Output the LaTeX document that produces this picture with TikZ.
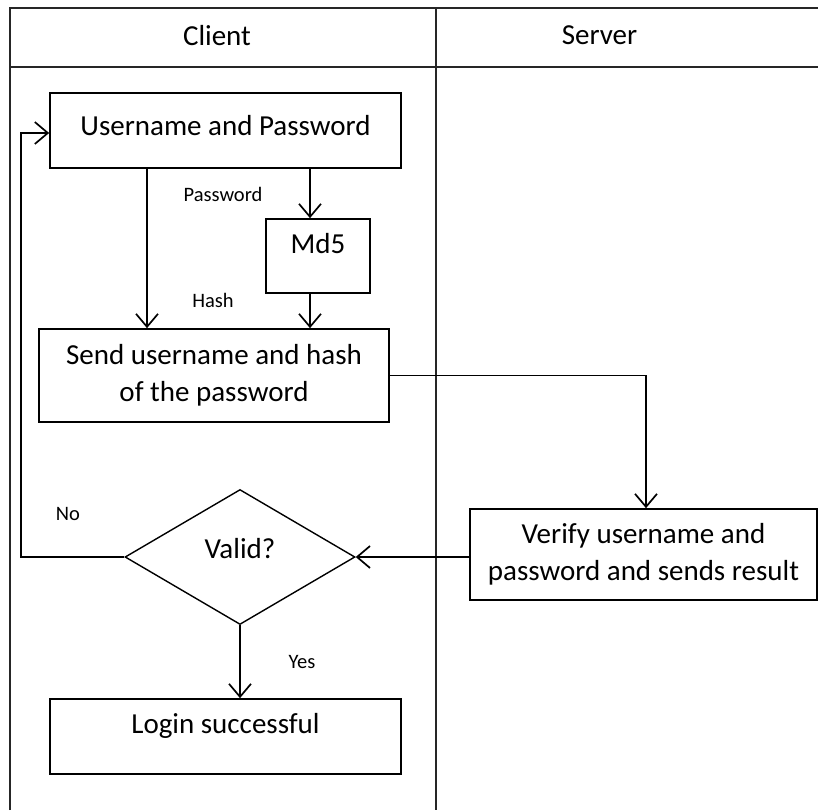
\documentclass[tikz,border=0pt]{standalone}
\usepackage{fontspec}
\setmainfont{Carlito}
\usetikzlibrary{arrows.meta, shapes.geometric}

\begin{document}
\begin{tikzpicture}[x=1pt, y=-1pt,
    box/.style = {draw, line width=1.7pt, inner sep=0pt, align=center,
      font=\fontsize{29}{37}\selectfont},
    small/.style = {anchor=base, font=\fontsize{20.5}{24}\selectfont},
    arr/.style = {line width=1.7pt,
      -{Straight Barb[length=13pt, width=22pt, line width=1.7pt]}},
    lane/.style = {line width=2.2pt, draw=black!85}]
    \useasboundingbox (0,0) rectangle (818,810);

    % swimlanes
    \draw [lane] (10,810) -- (10,8) -- (818,8);
    \draw [lane] (10,67) -- (818,67);
    \draw [lane] (436,8) -- (436,810);
    \node [anchor=base, font=\fontsize{29}{37}\selectfont] (client) at (217,46) {Client};
    \node [anchor=base, font=\fontsize{29}{37}\selectfont] (server) at (599.5,45) {Server};

    % client side
    \node [box, minimum width=351pt, text height=43pt, text depth=32pt]
      (user) at (225.5,130.5) {Username and Password};
    \node [box, minimum width=104pt, text height=34pt, text depth=40pt]
      (md5) at (318,256) {Md5};
    \node [box, minimum width=350pt, minimum height=93pt]
      (send) at (214,375.5) {Send username and hash\\of the password};
    \node [box, shape=diamond, minimum width=230pt, minimum height=135pt,
      text height=10pt, text depth=8pt, line width=1.4pt]
      (valid) at (240,557) {Valid?};
    \node [box, minimum width=351pt, text height=34pt, text depth=41pt]
      (login) at (225.5,736.5) {Login successful};

    % server side
    \node [box, minimum width=347pt, minimum height=91pt]
      (verify) at (643.5,554.5) {Verify username and\\password and sends result};

    \node [small] (pwlabel) at (223,202) {Password};
    \node [small] (hashlabel) at (213,307) {Hash};
    \node [small] (nolabel) at (68,520) {No};
    \node [small] (yeslabel) at (302,668) {Yes};

    \coordinate (userout) at ([xshift=-78.5pt]user.south);
    \coordinate (md5in) at ([xshift=-8pt]md5.north);
    \coordinate (md5out) at ([xshift=-8pt]md5.south);

    \draw [arr] (userout) -- (userout |- send.north);
    \draw [arr] (md5in |- user.south) -- (md5in);
    \draw [arr] (md5out) -- (md5out |- send.north);
    \draw [arr] (send.east) -| ([xshift=2.5pt]verify.north);
    \draw [arr] (verify.west |- valid.east) -- (valid.east);
    \draw [arr] (valid.west) -- ++(-103,0) |- ([yshift=-2.5pt]user.west);
    \draw [arr] (valid.south) -- (valid.south |- login.north);
\end{tikzpicture}
\end{document}
